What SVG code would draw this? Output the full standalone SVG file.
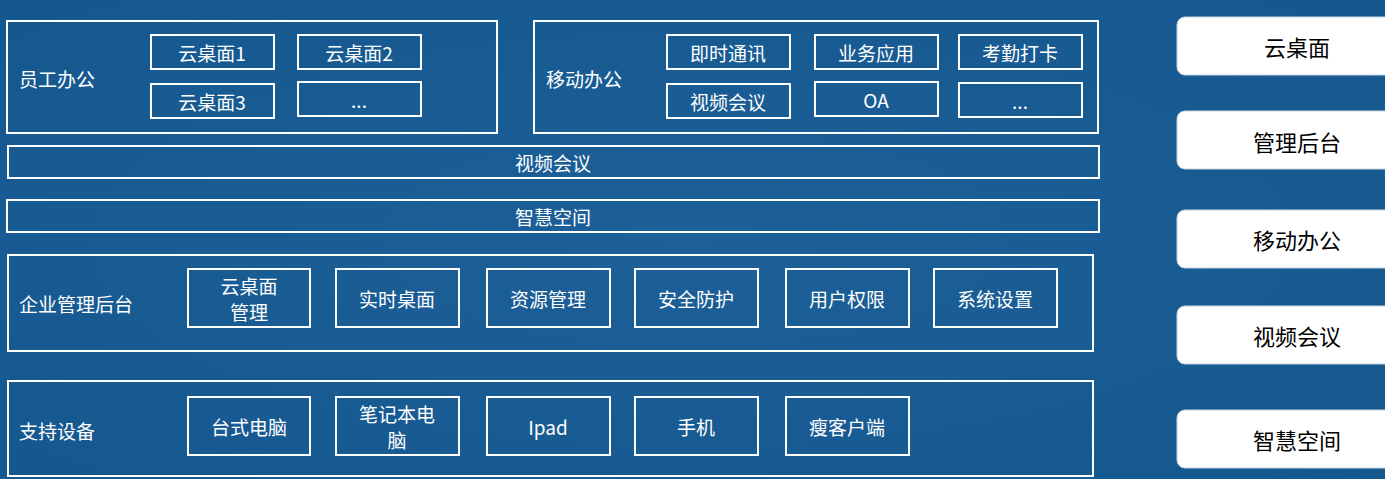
<svg xmlns="http://www.w3.org/2000/svg" width="1385" height="479" viewBox="0 0 1385 479">
<style>
.o{fill:none;stroke:#fff;stroke-width:2}
.t{fill:#fff;font-family:"Noto Sans CJK SC","Liberation Sans",sans-serif;font-size:19px;text-anchor:middle;dominant-baseline:central}
.l{text-anchor:start}
.b{fill:#fff;stroke:#c8d4e0;stroke-width:1}
.bt{fill:#000;font-family:"Noto Sans CJK SC","Liberation Sans",sans-serif;font-size:22px;text-anchor:middle;dominant-baseline:central}
</style>
<defs>
<radialGradient id="g" cx="0.5" cy="0.5" r="0.7">
<stop offset="0" stop-color="#1d5f98"/><stop offset="1" stop-color="#15588f"/>
</radialGradient>
</defs>
<rect width="1385" height="479" fill="url(#g)"/>
<g id="staff"><rect class="o" x="7" y="21" width="490" height="112"/><text class="t l" x="19" y="78">员工办公</text>
<rect class="o" x="151" y="35" width="123" height="34"/><text class="t" x="212" y="52">云桌面1</text>
<rect class="o" x="298" y="35" width="123" height="34"/><text class="t" x="359" y="52">云桌面2</text>
<rect class="o" x="151" y="84" width="123" height="34"/><text class="t" x="212" y="101">云桌面3</text>
<rect class="o" x="298" y="82" width="123" height="34"/><text class="t" x="359" y="99">...</text></g>
<g id="mobile"><rect class="o" x="534" y="21" width="564" height="112"/><text class="t l" x="546" y="78">移动办公</text>
<rect class="o" x="667" y="35" width="123" height="34"/><text class="t" x="728" y="52">即时通讯</text>
<rect class="o" x="815" y="35" width="123" height="34"/><text class="t" x="876" y="52">业务应用</text>
<rect class="o" x="959" y="35" width="123" height="34"/><text class="t" x="1020" y="52">考勤打卡</text>
<rect class="o" x="667" y="84" width="123" height="34"/><text class="t" x="728" y="101">视频会议</text>
<rect class="o" x="815" y="82" width="123" height="34"/><text class="t" x="876" y="99">OA</text>
<rect class="o" x="959" y="83" width="123" height="34"/><text class="t" x="1020" y="100">...</text></g>
<g id="video"><rect class="o" x="8" y="146" width="1091" height="32"/><text class="t" x="553" y="162">视频会议</text></g>
<g id="smart"><rect class="o" x="7" y="200" width="1092" height="32"/><text class="t" x="553" y="216">智慧空间</text></g>
<g id="mgmt"><rect class="o" x="8" y="255" width="1085" height="96"/><text class="t l" x="19" y="303">企业管理后台</text>
<rect class="o" x="188" y="269" width="122" height="58"/><text class="t" x="249" y="285">云桌面</text><text class="t" x="249" y="311">管理</text>
<rect class="o" x="336" y="269" width="123" height="58"/><text class="t" x="397" y="298">实时桌面</text>
<rect class="o" x="487" y="269" width="123" height="58"/><text class="t" x="548" y="298">资源管理</text>
<rect class="o" x="635" y="269" width="123" height="58"/><text class="t" x="696" y="298">安全防护</text>
<rect class="o" x="786" y="269" width="123" height="58"/><text class="t" x="847" y="298">用户权限</text>
<rect class="o" x="934" y="269" width="123" height="58"/><text class="t" x="995" y="298">系统设置</text></g>
<g id="devices"><rect class="o" x="8" y="381" width="1085" height="95"/><text class="t l" x="19" y="430">支持设备</text>
<rect class="o" x="188" y="397" width="122" height="58"/><text class="t" x="249" y="426">台式电脑</text>
<rect class="o" x="336" y="397" width="123" height="58"/><text class="t" x="397" y="413">笔记本电</text><text class="t" x="397" y="439">脑</text>
<rect class="o" x="487" y="397" width="123" height="58"/><text class="t" x="548" y="426">Ipad</text>
<rect class="o" x="635" y="397" width="123" height="58"/><text class="t" x="696" y="426">手机</text>
<rect class="o" x="786" y="397" width="123" height="58"/><text class="t" x="847" y="426">瘦客户端</text></g>
<g id="side">
<rect class="b" x="1177" y="17" width="220" height="58" rx="8"/><text class="bt" x="1297" y="46">云桌面</text>
<rect class="b" x="1177" y="111" width="220" height="58" rx="8"/><text class="bt" x="1297" y="141">管理后台</text>
<rect class="b" x="1177" y="210" width="220" height="58" rx="8"/><text class="bt" x="1297" y="239">移动办公</text>
<rect class="b" x="1177" y="306" width="220" height="58" rx="8"/><text class="bt" x="1297" y="335">视频会议</text>
<rect class="b" x="1177" y="410" width="220" height="58" rx="8"/><text class="bt" x="1297" y="439">智慧空间</text>
</g>
<g id="connectors"/>
</svg>
